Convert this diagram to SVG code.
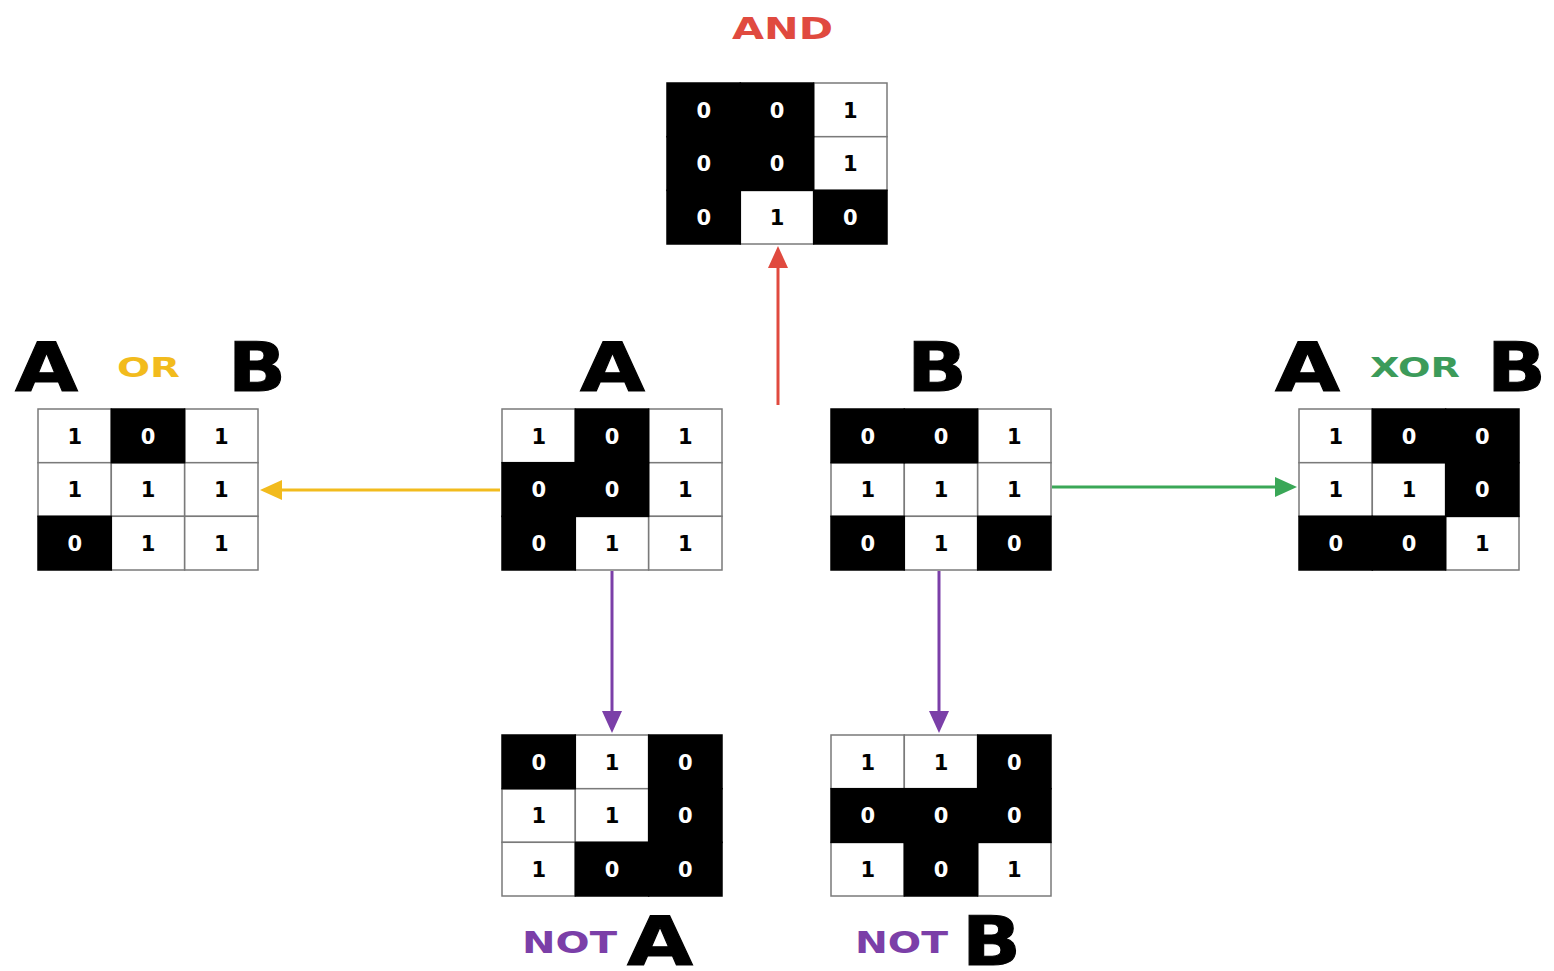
<svg xmlns="http://www.w3.org/2000/svg" width="1554" height="971" viewBox="0 0 1554 971">
<style>
.w{fill:#fff;stroke:#7a7a7a;stroke-width:1.5}
.k{fill:#000;stroke:#000;stroke-width:1.5}
.d{font-family:"DejaVu Sans",sans-serif;font-weight:bold;font-size:21px;text-anchor:middle}
.dw{fill:#fff}
.dk{fill:#000}
.big{font-family:"DejaVu Sans",sans-serif;font-weight:bold;font-size:68px;fill:#000;stroke:#000;stroke-width:1}
.op{font-family:"DejaVu Sans",sans-serif;font-weight:bold}
.conn{fill:none;stroke-width:3}
</style>
<defs>
<marker id="hr" markerUnits="userSpaceOnUse" markerWidth="24" markerHeight="22" refX="12" refY="10" orient="auto"><path d="M0,0 L22,10 L0,20 z" fill="#e04a3f"/></marker>
<marker id="hy" markerUnits="userSpaceOnUse" markerWidth="24" markerHeight="22" refX="12" refY="10" orient="auto"><path d="M0,0 L22,10 L0,20 z" fill="#f2bb1d"/></marker>
<marker id="hg" markerUnits="userSpaceOnUse" markerWidth="24" markerHeight="22" refX="12" refY="10" orient="auto"><path d="M0,0 L22,10 L0,20 z" fill="#3aa757"/></marker>
<marker id="hp" markerUnits="userSpaceOnUse" markerWidth="24" markerHeight="22" refX="12" refY="10" orient="auto"><path d="M0,0 L22,10 L0,20 z" fill="#7b3fa8"/></marker>
</defs>
<rect width="1554" height="971" fill="#fff"/>

<g id="connectors">
<line class="conn" x1="778" y1="405" x2="778" y2="256" stroke="#e04a3f" marker-end="url(#hr)"/>
<line class="conn" x1="500" y1="490" x2="270" y2="490" stroke="#f2bb1d" marker-end="url(#hy)"/>
<line class="conn" x1="1052" y1="487" x2="1287" y2="487" stroke="#3aa757" marker-end="url(#hg)"/>
<line class="conn" x1="612" y1="571" x2="612" y2="723" stroke="#7b3fa8" marker-end="url(#hp)"/>
<line class="conn" x1="939" y1="571" x2="939" y2="723" stroke="#7b3fa8" marker-end="url(#hp)"/>
</g>

<g id="and">
<text class="op" x="732" y="39" font-size="30" fill="#e04a3f" textLength="101" lengthAdjust="spacingAndGlyphs">AND</text>
<g transform="translate(667,83)">
<rect class="w" x="146.7" y="0" width="73.3" height="53.7"/>
<rect class="w" x="146.7" y="53.7" width="73.3" height="53.7"/>
<rect class="w" x="73.3" y="107.3" width="73.3" height="53.7"/>
<rect class="k" x="0" y="0" width="73.3" height="53.7"/>
<rect class="k" x="73.3" y="0" width="73.3" height="53.7"/>
<rect class="k" x="0" y="53.7" width="73.3" height="53.7"/>
<rect class="k" x="73.3" y="53.7" width="73.3" height="53.7"/>
<rect class="k" x="0" y="107.3" width="73.3" height="53.7"/>
<rect class="k" x="146.7" y="107.3" width="73.3" height="53.7"/>
<text class="d dw" x="36.7" y="34.5">0</text><text class="d dw" x="110" y="34.5">0</text><text class="d dk" x="183.3" y="34.5">1</text>
<text class="d dw" x="36.7" y="88.2">0</text><text class="d dw" x="110" y="88.2">0</text><text class="d dk" x="183.3" y="88.2">1</text>
<text class="d dw" x="36.7" y="141.8">0</text><text class="d dk" x="110" y="141.8">1</text><text class="d dw" x="183.3" y="141.8">0</text>
</g>
</g>

<g id="or">
<text class="big" x="15" y="391" textLength="63" lengthAdjust="spacingAndGlyphs">A</text>
<text class="op" x="117" y="377" font-size="26" fill="#f2bb1d" textLength="63" lengthAdjust="spacingAndGlyphs">OR</text>
<text class="big" x="228" y="391" textLength="58" lengthAdjust="spacingAndGlyphs">B</text>
<g transform="translate(38,409)">
<rect class="w" x="0" y="0" width="73.3" height="53.7"/>
<rect class="w" x="146.7" y="0" width="73.3" height="53.7"/>
<rect class="w" x="0" y="53.7" width="73.3" height="53.7"/>
<rect class="w" x="73.3" y="53.7" width="73.3" height="53.7"/>
<rect class="w" x="146.7" y="53.7" width="73.3" height="53.7"/>
<rect class="w" x="73.3" y="107.3" width="73.3" height="53.7"/>
<rect class="w" x="146.7" y="107.3" width="73.3" height="53.7"/>
<rect class="k" x="73.3" y="0" width="73.3" height="53.7"/>
<rect class="k" x="0" y="107.3" width="73.3" height="53.7"/>
<text class="d dk" x="36.7" y="34.5">1</text><text class="d dw" x="110" y="34.5">0</text><text class="d dk" x="183.3" y="34.5">1</text>
<text class="d dk" x="36.7" y="88.2">1</text><text class="d dk" x="110" y="88.2">1</text><text class="d dk" x="183.3" y="88.2">1</text>
<text class="d dw" x="36.7" y="141.8">0</text><text class="d dk" x="110" y="141.8">1</text><text class="d dk" x="183.3" y="141.8">1</text>
</g>
</g>

<g id="a">
<text class="big" x="580" y="391" textLength="65" lengthAdjust="spacingAndGlyphs">A</text>
<g transform="translate(502,409)">
<rect class="w" x="0" y="0" width="73.3" height="53.7"/>
<rect class="w" x="146.7" y="0" width="73.3" height="53.7"/>
<rect class="w" x="146.7" y="53.7" width="73.3" height="53.7"/>
<rect class="w" x="73.3" y="107.3" width="73.3" height="53.7"/>
<rect class="w" x="146.7" y="107.3" width="73.3" height="53.7"/>
<rect class="k" x="73.3" y="0" width="73.3" height="53.7"/>
<rect class="k" x="0" y="53.7" width="73.3" height="53.7"/>
<rect class="k" x="73.3" y="53.7" width="73.3" height="53.7"/>
<rect class="k" x="0" y="107.3" width="73.3" height="53.7"/>
<text class="d dk" x="36.7" y="34.5">1</text><text class="d dw" x="110" y="34.5">0</text><text class="d dk" x="183.3" y="34.5">1</text>
<text class="d dw" x="36.7" y="88.2">0</text><text class="d dw" x="110" y="88.2">0</text><text class="d dk" x="183.3" y="88.2">1</text>
<text class="d dw" x="36.7" y="141.8">0</text><text class="d dk" x="110" y="141.8">1</text><text class="d dk" x="183.3" y="141.8">1</text>
</g>
</g>

<g id="b">
<text class="big" x="907" y="391" textLength="60" lengthAdjust="spacingAndGlyphs">B</text>
<g transform="translate(831,409)">
<rect class="w" x="146.7" y="0" width="73.3" height="53.7"/>
<rect class="w" x="0" y="53.7" width="73.3" height="53.7"/>
<rect class="w" x="73.3" y="53.7" width="73.3" height="53.7"/>
<rect class="w" x="146.7" y="53.7" width="73.3" height="53.7"/>
<rect class="w" x="73.3" y="107.3" width="73.3" height="53.7"/>
<rect class="k" x="0" y="0" width="73.3" height="53.7"/>
<rect class="k" x="73.3" y="0" width="73.3" height="53.7"/>
<rect class="k" x="0" y="107.3" width="73.3" height="53.7"/>
<rect class="k" x="146.7" y="107.3" width="73.3" height="53.7"/>
<text class="d dw" x="36.7" y="34.5">0</text><text class="d dw" x="110" y="34.5">0</text><text class="d dk" x="183.3" y="34.5">1</text>
<text class="d dk" x="36.7" y="88.2">1</text><text class="d dk" x="110" y="88.2">1</text><text class="d dk" x="183.3" y="88.2">1</text>
<text class="d dw" x="36.7" y="141.8">0</text><text class="d dk" x="110" y="141.8">1</text><text class="d dw" x="183.3" y="141.8">0</text>
</g>
</g>

<g id="xor">
<text class="big" x="1275" y="391" textLength="65" lengthAdjust="spacingAndGlyphs">A</text>
<text class="op" x="1370" y="377" font-size="26" fill="#3c9b5a" textLength="90" lengthAdjust="spacingAndGlyphs">XOR</text>
<text class="big" x="1487" y="391" textLength="59" lengthAdjust="spacingAndGlyphs">B</text>
<g transform="translate(1299,409)">
<rect class="w" x="0" y="0" width="73.3" height="53.7"/>
<rect class="w" x="0" y="53.7" width="73.3" height="53.7"/>
<rect class="w" x="73.3" y="53.7" width="73.3" height="53.7"/>
<rect class="w" x="146.7" y="107.3" width="73.3" height="53.7"/>
<rect class="k" x="73.3" y="0" width="73.3" height="53.7"/>
<rect class="k" x="146.7" y="0" width="73.3" height="53.7"/>
<rect class="k" x="146.7" y="53.7" width="73.3" height="53.7"/>
<rect class="k" x="0" y="107.3" width="73.3" height="53.7"/>
<rect class="k" x="73.3" y="107.3" width="73.3" height="53.7"/>
<text class="d dk" x="36.7" y="34.5">1</text><text class="d dw" x="110" y="34.5">0</text><text class="d dw" x="183.3" y="34.5">0</text>
<text class="d dk" x="36.7" y="88.2">1</text><text class="d dk" x="110" y="88.2">1</text><text class="d dw" x="183.3" y="88.2">0</text>
<text class="d dw" x="36.7" y="141.8">0</text><text class="d dw" x="110" y="141.8">0</text><text class="d dk" x="183.3" y="141.8">1</text>
</g>
</g>

<g id="nota">
<g transform="translate(502,735)">
<rect class="w" x="73.3" y="0" width="73.3" height="53.7"/>
<rect class="w" x="0" y="53.7" width="73.3" height="53.7"/>
<rect class="w" x="73.3" y="53.7" width="73.3" height="53.7"/>
<rect class="w" x="0" y="107.3" width="73.3" height="53.7"/>
<rect class="k" x="0" y="0" width="73.3" height="53.7"/>
<rect class="k" x="146.7" y="0" width="73.3" height="53.7"/>
<rect class="k" x="146.7" y="53.7" width="73.3" height="53.7"/>
<rect class="k" x="73.3" y="107.3" width="73.3" height="53.7"/>
<rect class="k" x="146.7" y="107.3" width="73.3" height="53.7"/>
<text class="d dw" x="36.7" y="34.5">0</text><text class="d dk" x="110" y="34.5">1</text><text class="d dw" x="183.3" y="34.5">0</text>
<text class="d dk" x="36.7" y="88.2">1</text><text class="d dk" x="110" y="88.2">1</text><text class="d dw" x="183.3" y="88.2">0</text>
<text class="d dk" x="36.7" y="141.8">1</text><text class="d dw" x="110" y="141.8">0</text><text class="d dw" x="183.3" y="141.8">0</text>
</g>
<text class="op" x="522" y="953" font-size="31" fill="#7b3fa8" textLength="95" lengthAdjust="spacingAndGlyphs">NOT</text>
<text class="big" x="627" y="965" font-size="66" textLength="66" lengthAdjust="spacingAndGlyphs">A</text>
</g>

<g id="notb">
<g transform="translate(831,735)">
<rect class="w" x="0" y="0" width="73.3" height="53.7"/>
<rect class="w" x="73.3" y="0" width="73.3" height="53.7"/>
<rect class="w" x="0" y="107.3" width="73.3" height="53.7"/>
<rect class="w" x="146.7" y="107.3" width="73.3" height="53.7"/>
<rect class="k" x="146.7" y="0" width="73.3" height="53.7"/>
<rect class="k" x="0" y="53.7" width="73.3" height="53.7"/>
<rect class="k" x="73.3" y="53.7" width="73.3" height="53.7"/>
<rect class="k" x="146.7" y="53.7" width="73.3" height="53.7"/>
<rect class="k" x="73.3" y="107.3" width="73.3" height="53.7"/>
<text class="d dk" x="36.7" y="34.5">1</text><text class="d dk" x="110" y="34.5">1</text><text class="d dw" x="183.3" y="34.5">0</text>
<text class="d dw" x="36.7" y="88.2">0</text><text class="d dw" x="110" y="88.2">0</text><text class="d dw" x="183.3" y="88.2">0</text>
<text class="d dk" x="36.7" y="141.8">1</text><text class="d dw" x="110" y="141.8">0</text><text class="d dk" x="183.3" y="141.8">1</text>
</g>
<text class="op" x="855" y="953" font-size="31" fill="#7b3fa8" textLength="93" lengthAdjust="spacingAndGlyphs">NOT</text>
<text class="big" x="962" y="965" font-size="66" textLength="59" lengthAdjust="spacingAndGlyphs">B</text>
</g>
</svg>
